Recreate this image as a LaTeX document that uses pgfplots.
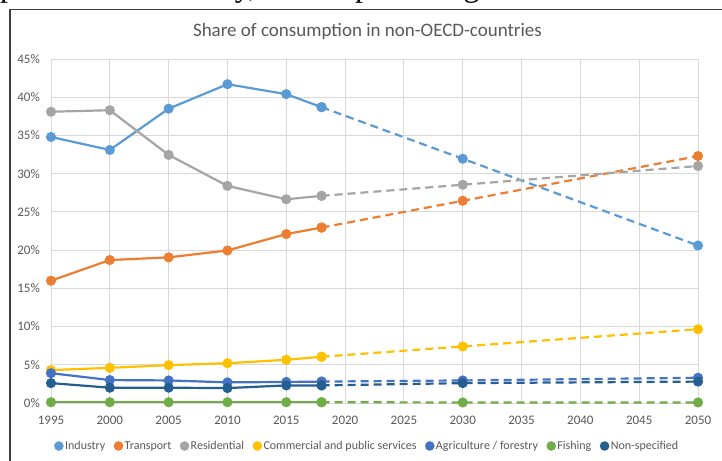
\documentclass[border=0pt]{standalone}
\usepackage{pgfplots}
\pgfplotsset{compat=1.18}
\usepackage{fontspec}
\setmainfont{Carlito}
\newfontfamily\timesf{Liberation Serif}
\definecolor{cInd}{HTML}{5B9BD5}
\definecolor{cTra}{HTML}{ED7D31}
\definecolor{cRes}{HTML}{A5A5A5}
\definecolor{cCom}{HTML}{FFC000}
\definecolor{cAgr}{HTML}{4472C4}
\definecolor{cFis}{HTML}{70AD47}
\definecolor{cNon}{HTML}{255E91}
\definecolor{txt}{HTML}{595959}
\definecolor{gridc}{HTML}{D9D9D9}
\begin{document}
\begin{tikzpicture}[x=1bp,y=1bp]
\useasboundingbox (0,0) rectangle (722,461);
\clip (0,0) rectangle (722,461);
\fill[white] (0,0) rectangle (722,461);
\tikzset{toptext/.style={anchor=base west, inner sep=0, font=\timesf\fontsize{32bp}{36bp}\selectfont}}
\node[toptext] at (0,464) {published.};
\node[toptext] at (167,464) {Likely,};
\node[toptext] at (287,464) {the};
\node[toptext] at (355,464) {percentages};
\node[toptext] at (522,464) {values};
\node[toptext] at (622,464) {for};
\node[toptext] at (678,464) {each};
\fill[white] (0,0) rectangle (722,450.5);
\draw[black!75, line width=1.5bp] (10,-5) -- (10,451.5) -- (730,451.5);
\node[anchor=base, inner sep=0, text=txt, font=\fontsize{19bp}{22bp}\selectfont] at (367.5,424.5) {Share of consumption in non-OECD-countries};
\begin{axis}[
  at={(51bp,58bp)}, anchor=south west,
  scale only axis, width=647bp, height=344bp,
  xmin=1995, xmax=2050, ymin=0, ymax=45,
  xtick={1995,2000,...,2050}, ytick={0,5,...,45},
  grid=major, grid style={gridc, line width=0.9bp},
  axis line style={draw=none}, major tick length=0pt,
  clip=false,
  /pgf/number format/assume math mode=true,
  /pgf/number format/1000 sep={},
  yticklabel={\pgfmathprintnumber{\tick}\%},
  xticklabel style={anchor=base, inner sep=0pt, yshift=-22bp, text=txt, font=\fontsize{13bp}{15bp}\selectfont},
  yticklabel style={anchor=east, inner sep=0pt, xshift=-11bp, text=txt, font=\fontsize{13bp}{15bp}\selectfont},
  legend columns=-1,
  legend style={at={(0.4884,-0.125)}, anchor=center, draw=none, fill=none, inner sep=0pt,
    font=\fontsize{12bp}{14bp}\selectfont, text=txt,
    /tikz/every even column/.append style={column sep=7bp},
    nodes={inner sep=1.5bp}},
  legend image code/.code={\fill[#1] (0bp,0bp) circle (3.6bp);},
  sol/.style={line width=2.2bp, mark=*, mark size=3.9bp, mark options={solid}},
  dsh/.style={sol, dash pattern=on 8bp off 5bp, forget plot},
]
\addplot[cInd, sol] coordinates {(1995,34.8)(2000,33.1)(2005,38.5)(2010,41.7)(2015,40.4)(2018,38.7)};
\addlegendentry{Industry}
\addplot[cInd, dsh] coordinates {(2018,38.7)(2030,31.95)(2050,20.6)};
\addplot[cTra, sol] coordinates {(1995,16.0)(2000,18.7)(2005,19.05)(2010,19.95)(2015,22.1)(2018,22.95)};
\addlegendentry{Transport}
\addplot[cTra, dsh] coordinates {(2018,22.95)(2030,26.45)(2050,32.3)};
\addplot[cRes, sol] coordinates {(1995,38.1)(2000,38.3)(2005,32.45)(2010,28.4)(2015,26.65)(2018,27.1)};
\addlegendentry{Residential}
\addplot[cRes, dsh] coordinates {(2018,27.1)(2030,28.55)(2050,31.0)};
\addplot[cCom, sol] coordinates {(1995,4.3)(2000,4.6)(2005,4.95)(2010,5.2)(2015,5.65)(2018,6.05)};
\addlegendentry{Commercial and public services}
\addplot[cCom, dsh] coordinates {(2018,6.05)(2030,7.4)(2050,9.65)};
\addplot[cAgr, sol] coordinates {(1995,3.9)(2000,3.0)(2005,2.95)(2010,2.7)(2015,2.75)(2018,2.8)};
\addlegendentry{Agriculture / forestry}
\addplot[cAgr, dsh] coordinates {(2018,2.8)(2030,2.95)(2050,3.3)};
\addplot[cFis, sol] coordinates {(1995,0.1)(2000,0.1)(2005,0.1)(2010,0.1)(2015,0.1)(2018,0.1)};
\addlegendentry{Fishing}
\addplot[cFis, dsh] coordinates {(2018,0.1)(2030,0.07)(2050,0.07)};
\addplot[cNon, sol] coordinates {(1995,2.6)(2000,2.0)(2005,2.0)(2010,1.95)(2015,2.3)(2018,2.3)};
\addlegendentry{Non-specified}
\addplot[cNon, dsh] coordinates {(2018,2.3)(2030,2.6)(2050,2.8)};
\end{axis}
\end{tikzpicture}
\end{document}
